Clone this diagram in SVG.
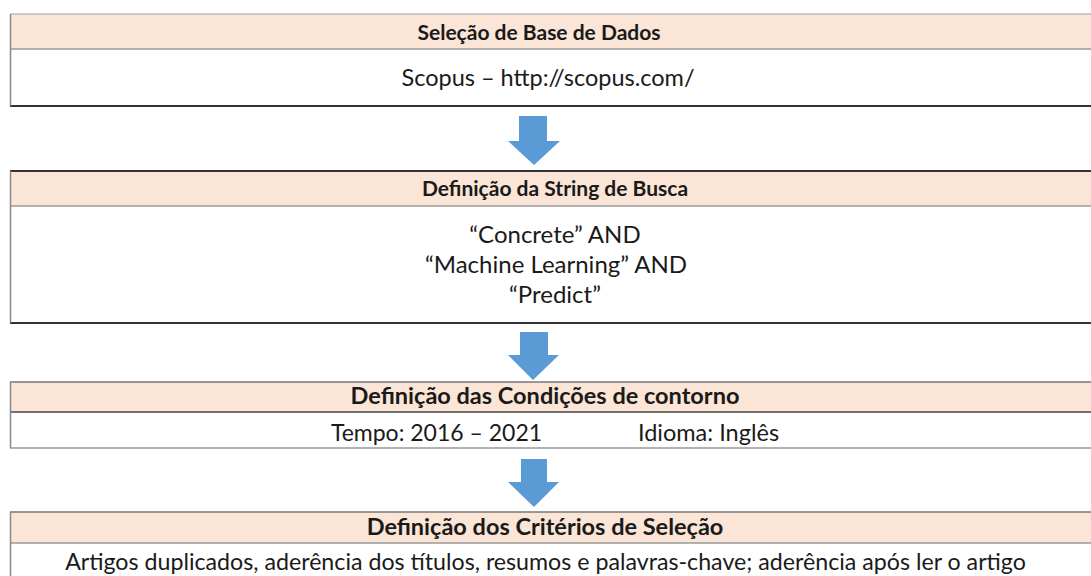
<svg xmlns="http://www.w3.org/2000/svg" width="1091" height="576" viewBox="0 0 1091 576">
<style>
.hdr{fill:#FBE5D6;stroke:none}
.body{fill:#FFFFFF;stroke:none}
.div{stroke:#9a9a9a;stroke-width:1.5}
.t{font-family:Lato,"Liberation Sans",sans-serif;fill:#1a1a1a;text-anchor:middle}
.b{font-weight:bold}
.arrow{fill:#5B9BD5}
</style>
<rect width="1091" height="576" fill="#FFFFFF"/>
<g id="node1">
<rect class="hdr" x="10" y="14" width="1090" height="35"/>
<rect class="body" x="10" y="49" width="1090" height="57"/>
<line x1="10" y1="14" x2="1091" y2="14" stroke="#bbb" stroke-width="1.5"/>
<line class="div" x1="10" y1="49" x2="1091" y2="49"/>
<line x1="10" y1="106" x2="1091" y2="106" stroke="#333" stroke-width="2"/>
<line x1="10.5" y1="14" x2="10.5" y2="106" stroke="#888" stroke-width="1.5"/>
<text class="t b" x="539" y="40" font-size="21">Seleção de Base de Dados</text>
<text class="t" x="548" y="86" font-size="23.5">Scopus – http://scopus.com/</text>
</g>
<g id="node2">
<rect class="hdr" x="10" y="171" width="1090" height="35"/>
<rect class="body" x="10" y="206" width="1090" height="117"/>
<line x1="10" y1="171" x2="1091" y2="171" stroke="#333" stroke-width="2"/>
<line class="div" x1="10" y1="206" x2="1091" y2="206"/>
<line x1="10" y1="323" x2="1091" y2="323" stroke="#333" stroke-width="2"/>
<line x1="10.5" y1="171" x2="10.5" y2="323" stroke="#888" stroke-width="1.5"/>
<text class="t b" x="555" y="196" font-size="21">Definição da String de Busca</text>
<text class="t" x="555" y="243" font-size="24">“Concrete” AND</text>
<text class="t" x="556" y="273" font-size="24">“Machine Learning” AND</text>
<text class="t" x="555" y="303" font-size="24">“Predict”</text>
</g>
<g id="node3">
<rect class="hdr" x="10" y="382" width="1090" height="30"/>
<rect class="body" x="10" y="412" width="1090" height="36"/>
<line x1="10" y1="382" x2="1091" y2="382" stroke="#777" stroke-width="1.5"/>
<line x1="10" y1="412" x2="1091" y2="412" stroke="#444" stroke-width="1.5"/>
<line x1="10" y1="448" x2="1091" y2="448" stroke="#999" stroke-width="1.5"/>
<line x1="10.5" y1="382" x2="10.5" y2="448" stroke="#888" stroke-width="1.5"/>
<text class="t b" x="545" y="403.5" font-size="23.5">Definição das Condições de contorno</text>
<text class="t" x="436.5" y="441" font-size="23">Tempo: 2016 – 2021</text>
<text class="t" x="708.5" y="441" font-size="23.5">Idioma: Inglês</text>
</g>
<g id="node4">
<rect class="hdr" x="10" y="512" width="1090" height="31"/>
<rect class="body" x="10" y="543" width="1090" height="40"/>
<line x1="10" y1="512" x2="1091" y2="512" stroke="#777" stroke-width="1.5"/>
<line class="div" x1="10" y1="543" x2="1091" y2="543"/>
<line x1="10.5" y1="512" x2="10.5" y2="576" stroke="#888" stroke-width="1.5"/>
<text class="t b" x="545" y="535" font-size="23.5">Definição dos Critérios de Seleção</text>
<text class="t" x="545.5" y="570" font-size="23.2">Artigos duplicados, aderência dos títulos, resumos e palavras-chave; aderência após ler o artigo</text>
</g>
<g id="connectors">
<polygon class="arrow" points="519,116 547,116 547,141 560,141 534,165 508,141 519,141"/>
<polygon class="arrow" points="520,332 548,332 548,355 559,355 533,380 508,355 520,355"/>
<polygon class="arrow" points="521,459 547,459 547,482 559,482 534,507 508,482 521,482"/>
</g>
</svg>
